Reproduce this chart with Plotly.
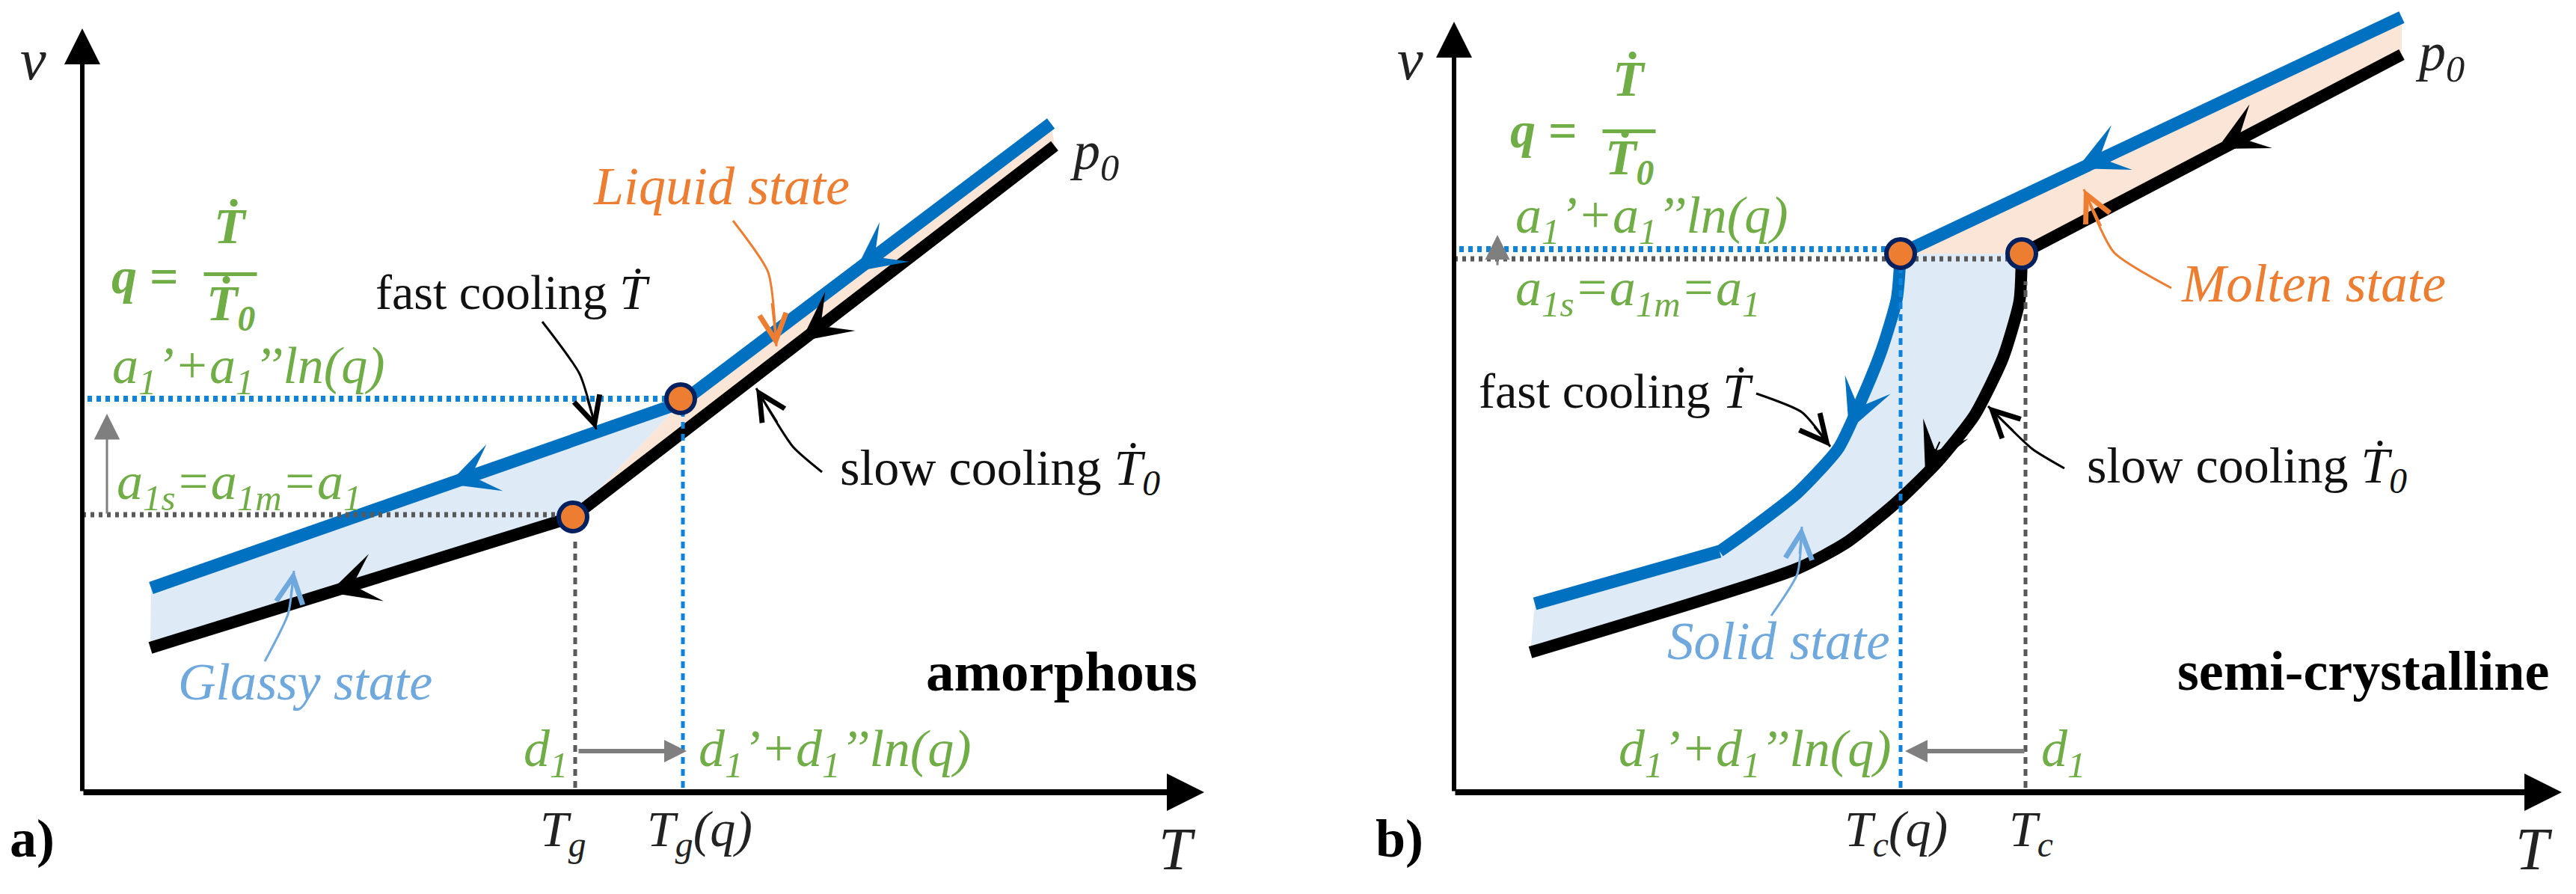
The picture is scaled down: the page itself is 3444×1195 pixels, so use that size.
import plotly.graph_objects as go

#colours
BLUE = '#0070C0'
BLACK = '#000000'
ORANGE = '#ED7D31'
GREEN = '#70AD47'
LIGHT = '#6FA8DC'
GRAY = '#7F7F7F'
DOT_BLUE = '#0F82DC'
DOT_GRAY = '#595959'

#amorphous panel, curves
fast_T_a = [92, 801, 1295]
fast_v_a = [273, 521, 894]
slow_T_a = [91, 656, 1300]
slow_v_a = [193, 368, 864]
glass_T_a = [92, 801, 656, 91]
glass_v_a = [273, 521, 368, 193]
liquid_T_a = [656, 801, 1295, 1300]
liquid_v_a = [368, 521, 894, 864]
knee_T_a = [656, 800]
knee_v_a = [368, 526]

#semi-crystalline panel
fast_low_T_b = [108, 355]
fast_low_v_b = [252, 322]
fast_solid_T_b = [355, 393, 459, 514, 547, 572, 592, 597]
fast_solid_v_b = [322, 349, 400, 460, 530, 592, 660, 720]
fast_melt_T_b = [597, 1267]
fast_melt_v_b = [720, 1036]
slow_solid_T_b = [102, 459, 525, 591, 646, 696, 734, 756, 759]
slow_solid_v_b = [187, 299, 334, 387, 441, 504, 581, 657, 720]
slow_melt_T_b = [759, 1267]
slow_melt_v_b = [720, 986]
molten_T_b = [597, 1267, 1267, 759]
molten_v_b = [720, 1036, 986, 720]
knee_T_b = [597, 759]
knee_v_b = [720, 720]

#reference levels
level_a = dict(fast_v=526, slow_v=371, fast_T=803, slow_T=659)
level_b = dict(fast_v=726, slow_v=713, fast_T=597, slow_T=764)

#thin callout curves
call_a = [
    ([615, 665, 687], [629, 559, 485], BLACK),
    ([870, 917, 928], [764, 695, 596], ORANGE),
    ([989, 950, 901], [428, 462, 540], BLACK),
    ([244, 275, 283], [175, 238, 296], LIGHT),
]
call_b = [
    ([404, 465, 503], [533, 508, 462], BLACK),
    ([959, 882, 842], [674, 722, 806], ORANGE),
    ([816, 773, 714], [433, 459, 516], BLACK),
    ([424, 459, 465], [236, 292, 355], LIGHT),
]

#direction heads on the curves: tip T, tip v, tail T, tail v
heads_a = [
    (1033, 696, 1093, 741, BLUE), (489, 412, 549, 433, BLUE),
    (961, 603, 1021, 649, BLACK), (330, 267, 390, 286, BLACK),
]
heads_b = [
    (833, 834, 893, 862, BLUE), (528, 484, 547, 530, BLUE),
    (1020, 860, 1080, 891, BLACK), (630, 426, 650, 470, BLACK),
]

fig = go.Figure()
FONT = 'Liberation Serif'


def line(T, v, color, width, panel, dash=None, shape='linear'):
    fig.add_trace(go.Scatter(x=T, y=v, mode='lines', hoverinfo='skip',
                             line=dict(color=color, width=width, dash=dash, shape=shape, smoothing=0.6),
                             xaxis='x' + panel, yaxis='y' + panel, showlegend=False))


def area(T, v, color, panel):
    fig.add_trace(go.Scatter(x=T, y=v, mode='lines', fill='toself', fillcolor=color,
                             line=dict(width=0), hoverinfo='skip',
                             xaxis='x' + panel, yaxis='y' + panel, showlegend=False))


def knees(T, v, panel):
    fig.add_trace(go.Scatter(x=T, y=v, mode='markers', hoverinfo='skip',
                             marker=dict(color=ORANGE, size=38, line=dict(color='#002060', width=6)),
                             xaxis='x' + panel, yaxis='y' + panel, showlegend=False))


annots = []


def arrow(T, v, tail_T, tail_v, color, panel, head, width, size):
    annots.append(dict(x=T, y=v, ax=tail_T, ay=tail_v, xref='x' + panel, yref='y' + panel,
                       axref='x' + panel, ayref='y' + panel, text='', showarrow=True,
                       arrowhead=head, arrowwidth=width, arrowsize=size, arrowcolor=color))


def label(text, T, v, size, color, panel, anchor='left'):
    annots.append(dict(x=T, y=v, text=text, xref='x' + panel, yref='y' + panel, showarrow=False,
                       xanchor=anchor, yanchor='middle',
                       font=dict(family=FONT, size=size, color=color)))


def panel_marks(panel, level, calls, heads):
    #dotted guide lines
    line([7, level['fast_T']], [level['fast_v']] * 2, DOT_BLUE, 8, panel, dash='6px,6px')
    line([0, level['slow_T']], [level['slow_v']] * 2, DOT_GRAY, 7, panel, dash='5px,6px')
    line([level['fast_T']] * 2, [6, level['fast_v'] - 14], DOT_BLUE, 5, panel, dash='9px,7px')
    line([level['slow_T']] * 2, [6, level['slow_v'] - 30], DOT_GRAY, 5, panel, dash='9px,7px')
    for T, v, color in calls:
        line(T, v, color, 3, panel, shape='spline')
        arrow(T[-1], v[-1], T[-1] + (T[-2] - T[-1]) * 0.6, v[-1] + (v[-2] - v[-1]) * 0.6, color, panel, 5, 2, 3.5)
    for tip_T, tip_v, tail_T, tail_v, color in heads:
        arrow(tip_T, tip_v, tail_T, tail_v, color, panel, 3, 2, 5.5)


#panel a
area(glass_T_a, glass_v_a, '#DEEAF6', '')
area(liquid_T_a, liquid_v_a, '#FBE5D6', '')
line(slow_T_a, slow_v_a, BLACK, 16, '')
line(fast_T_a, fast_v_a, BLUE, 17, '')
panel_marks('', level_a, call_a, heads_a)
knees(knee_T_a, knee_v_a, '')

#panel b
area(fast_low_T_b + fast_solid_T_b + slow_solid_T_b[::-1], fast_low_v_b + fast_solid_v_b + slow_solid_v_b[::-1], '#DEEAF6', '2')
area(molten_T_b, molten_v_b, '#FBE5D6', '2')
line(slow_solid_T_b, slow_solid_v_b, BLACK, 16, '2', shape='spline')
line(slow_melt_T_b, slow_melt_v_b, BLACK, 16, '2')
line(fast_low_T_b, fast_low_v_b, BLUE, 17, '2')
line(fast_solid_T_b, fast_solid_v_b, BLUE, 16, '2', shape='spline')
line(fast_melt_T_b, fast_melt_v_b, BLUE, 17, '2')
panel_marks('2', level_b, call_b, heads_b)
knees(knee_T_b, knee_v_b, '2')

#axis arrows
arrow(0, 1021, 0, 0, BLACK, '', 2, 6, 1.6)
arrow(1500, 0, 0, 0, BLACK, '', 2, 8, 1.25)
arrow(0, 1030, 0, 0, BLACK, '2', 2, 6, 1.6)
arrow(1481, 0, 0, 0, BLACK, '2', 2, 8, 1.25)

#gray shift arrows
arrow(33, 506, 33, 371, GRAY, '', 2, 3, 2.3)
arrow(808, 55, 662, 55, GRAY, '', 2, 6, 1)
arrow(58, 745, 58, 703, GRAY, '2', 2, 3, 2.2)
arrow(603, 55, 764, 55, GRAY, '2', 2, 6, 1)

T_DOT = '\u1e6a'
Q_TOP = f'<b><i>{T_DOT}</i></b>'
Q_BOT = f'<b><i>{T_DOT}<sub>0</sub></i></b>'
A_FAST = '<i>a<sub>1</sub>\u2019+a<sub>1</sub>\u2019\u2019ln(q)</i>'
A_SLOW = '<i>a<sub>1s</sub>=a<sub>1m</sub>=a<sub>1</sub></i>'
D_FAST = '<i>d<sub>1</sub>\u2019+d<sub>1</sub>\u2019\u2019ln(q)</i>'
D_SLOW = '<i>d<sub>1</sub></i>'
FAST = f'fast cooling <i>{T_DOT}</i>'
SLOW = f'slow cooling <i>{T_DOT}<sub>0</sub></i>'
P0 = '<i>p<sub>0</sub></i>'

#panel a text
label('<i>v</i>', -66, 980, 78, '#222222', '', 'center')
label(P0, 1318, 852, 72, '#222222', '')
label('<b><i>q</i> =</b>', 84, 690, 68, GREEN, '', 'center')
label('<b>\u2014</b>', 198, 700, 70, GREEN, '', 'center')
label(Q_TOP, 198, 757, 68, GREEN, '', 'center')
label(Q_BOT, 198, 650, 68, GREEN, '', 'center')
label(A_FAST, 38, 565, 70, GREEN, '')
label(A_SLOW, 44, 410, 70, GREEN, '')
label(FAST, 390, 669, 66, '#111111', '')
label('<i>Liquid state</i>', 681, 810, 72, ORANGE, '')
label(SLOW, 1011, 430, 68, '#111111', '')
label('<i>Glassy state</i>', 126, 148, 70, LIGHT, '')
label('<b>amorphous</b>', 1126, 162, 75, BLACK, '')
label(D_SLOW, 588, 53, 70, GREEN, '')
label(D_FAST, 822, 53, 70, GREEN, '')
label('<i>T<sub>g</sub></i>', 610, -53, 68, '#222222', '')
label('<i>T<sub>g</sub>(q)</i>', 753, -53, 68, '#222222', '')
label('<b>a)</b>', -99, -62, 72, BLACK, '')
label('<i>T</i>', 1437, -76, 80, '#222222', '')

#panel b text
label('<i>v</i>', -59, 980, 78, '#222222', '2', 'center')
label(P0, 1283, 984, 72, '#222222', '2')
label('<b><i>q</i> =</b>', 120, 885, 68, GREEN, '2', 'center')
label('<b>\u2014</b>', 234, 891, 70, GREEN, '2', 'center')
label(Q_TOP, 234, 954, 68, GREEN, '2', 'center')
label(Q_BOT, 234, 845, 68, GREEN, '2', 'center')
label(A_FAST, 80, 766, 70, GREEN, '2')
label(A_SLOW, 80, 669, 70, GREEN, '2')
label('<i>Molten state</i>', 970, 680, 71, ORANGE, '2')
label(FAST, 31, 537, 66, '#111111', '2')
label(SLOW, 844, 433, 68, '#111111', '2')
label('<i>Solid state</i>', 283, 202, 71, LIGHT, '2')
label('<b>semi-crystalline</b>', 965, 162, 74, BLACK, '2')
label(D_FAST, 218, 53, 70, GREEN, '2')
label(D_SLOW, 783, 53, 70, GREEN, '2')
label('<i>T<sub>c</sub>(q)</i>', 520, -53, 68, '#222222', '2')
label('<i>T<sub>c</sub></i>', 740, -53, 68, '#222222', '2')
label('<b>b)</b>', -107, -62, 72, BLACK, '2')
label('<i>T</i>', 1417, -76, 80, '#222222', '2')

fig.update_layout(
    width=3444, height=1195, margin=dict(l=0, r=0, t=0, b=0),
    paper_bgcolor='white', plot_bgcolor='white', showlegend=False,
    annotations=annots,
    xaxis=dict(domain=[0, 0.5], range=[-110, 1612], visible=False),
    yaxis=dict(domain=[0, 1], range=[-136, 1059], visible=False),
    xaxis2=dict(domain=[0.5, 1], range=[-222, 1500], visible=False, anchor='y2'),
    yaxis2=dict(domain=[0, 1], range=[-136, 1059], visible=False, anchor='x2'),
)

fig.write_html("out.html", config=dict(displayModeBar=False), post_script="document.body.style.margin='0';")
